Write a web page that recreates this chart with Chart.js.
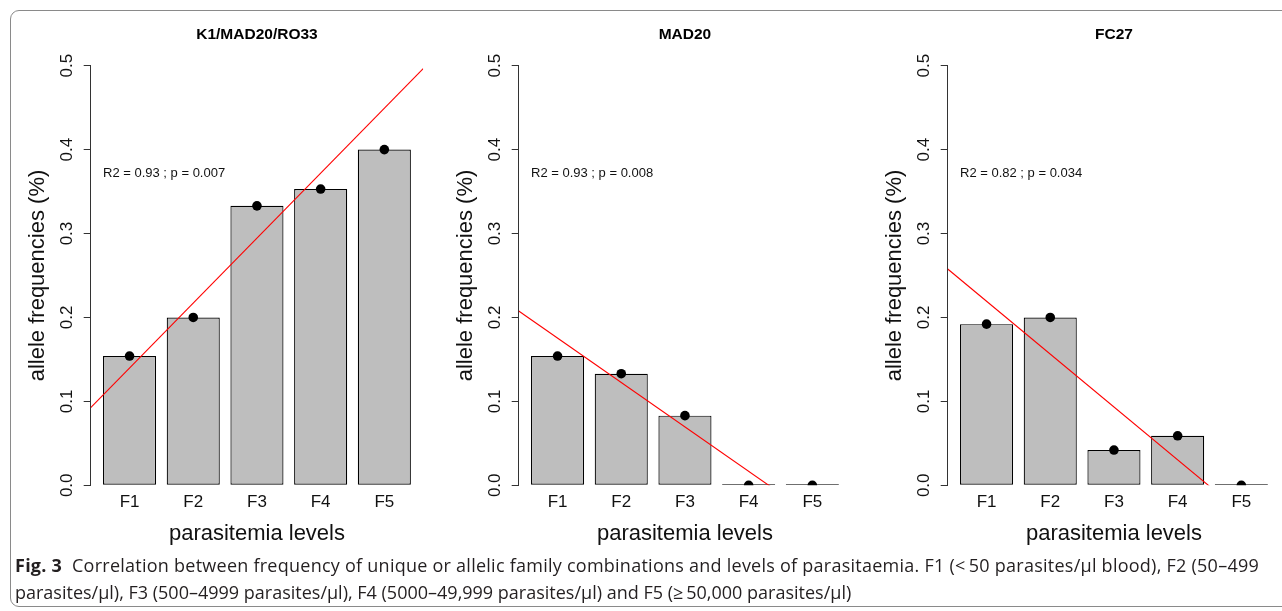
<!DOCTYPE html>
<html>
<head>
<meta charset="utf-8">
<script src="https://cdn.jsdelivr.net/npm/chart.js@4.4.0/dist/chart.umd.min.js"></script>
<style>
  html, body { margin: 0; padding: 0; background: #fff; overflow: hidden; }
  #fig { position: relative; width: 1282px; height: 611px; }
  #frame { position: absolute; left: 10px; top: 10px; width: 1300px; height: 597px;
           border: 1px solid #8a8a8a; border-radius: 9px; box-sizing: border-box; }
  canvas { position: absolute; top: 0; }
  #caption { position: absolute; left: 15px; top: 552px; font-family: "Open Sans", sans-serif;
             font-size: 18px; line-height: 27px; color: #231f20; white-space: nowrap; }
  #caption b { font-weight: 700; }
  #caption .l1 { letter-spacing: 0.25px; }
</style>
</head>
<body>
<div id="fig">
  <div id="frame"></div>
  <canvas id="k1" width="428" height="560" style="left:0px"></canvas>
  <canvas id="mad20" width="428" height="560" style="left:428px"></canvas>
  <canvas id="fc27" width="428" height="560" style="left:857px"></canvas>
  <div id="caption">
    <span class="l1"><b>Fig. 3</b>&nbsp; Correlation between frequency of unique or allelic family combinations and levels of parasitaemia. F1 (&lt;&thinsp;50 parasites/µl blood), F2 (50–499</span><br>
    <span>parasites/µl), F3 (500–4999 parasites/µl), F4 (5000–49,999 parasites/µl) and F5 (≥&thinsp;50,000 parasites/µl)</span>
  </div>
</div>
<script>
// parasitemia levels and allele frequencies
const levels = ['F1', 'F2', 'F3', 'F4', 'F5']
const k1Freq = [0.154, 0.200, 0.333, 0.353, 0.400]
const mad20Freq = [0.154, 0.133, 0.083, 0, 0]
const fc27Freq = [0.192, 0.200, 0.042, 0.059, 0]
const panelTitles = ['K1/MAD20/RO33', 'MAD20', 'FC27']
const statLabels = ['R2 = 0.93 ; p = 0.007', 'R2 = 0.93 ; p = 0.008', 'R2 = 0.82 ; p = 0.034']

// barplot style x coordinates: bar width 1, gap 0.2, 4% padding each side
const barCenters = levels.map((_, i) => 0.7 + 1.2 * i)
const xMin = -0.032
const xMax = 6.232

Chart.defaults.font.family = '"Liberation Sans", Arial, sans-serif'
Chart.defaults.color = '#111'

// least squares fit of frequency on level index 1..5
const fitLine = (values) => {
  const xs = values.map((_, i) => i + 1)
  const mx = xs.reduce((a, b) => a + b, 0) / xs.length
  const my = values.reduce((a, b) => a + b, 0) / values.length
  let sxy = 0, sxx = 0
  xs.forEach((x, i) => {
    sxy += (x - mx) * (values[i] - my)
    sxx += (x - mx) * (x - mx)
  })
  const slope = sxy / sxx
  return { slope, intercept: my - slope * mx }
}

const statText = {
  id: 'statText',
  afterDatasetsDraw(chart, args, opts) {
    const { ctx, scales } = chart
    ctx.save()
    ctx.font = '13px "Liberation Sans", Arial, sans-serif'
    ctx.fillStyle = '#111'
    ctx.textBaseline = 'middle'
    ctx.textAlign = 'left'
    ctx.fillText(opts.text, scales.x.getPixelForValue(0.2), scales.y.getPixelForValue(0.372))
    ctx.restore()
  }
}

const makePanel = (id, values, title, stat) => {
  const fit = fitLine(values)
  new Chart(document.getElementById(id), {
    type: 'bar',
    data: {
      datasets: [
        {
          type: 'bar',
          data: values.map((v, i) => ({ x: barCenters[i], y: v })),
          backgroundColor: '#bebebe',
          borderColor: '#000',
          borderWidth: 1.2,
          borderSkipped: false,
          barPercentage: 1 / 1.2,
          categoryPercentage: 1,
          minBarLength: 1.2,
          order: 3
        },
        {
          type: 'line',
          data: [xMin, xMax].map((x) => ({ x: x, y: fit.intercept + fit.slope * x })),
          borderColor: '#ff0000',
          borderWidth: 1.1,
          pointRadius: 0,
          clip: 0,
          order: 2
        },
        {
          type: 'line',
          data: values.map((v, i) => ({ x: barCenters[i], y: v })),
          showLine: false,
          pointRadius: 4.8,
          pointBackgroundColor: '#000',
          pointBorderWidth: 0,
          clip: 0,
          order: 1
        }
      ]
    },
    options: {
      responsive: false,
      animation: false,
      events: [],
      layout: { padding: { left: 0, right: 3.7, top: 0, bottom: 0 } },
      plugins: {
        legend: { display: false },
        tooltip: { enabled: false },
        title: {
          display: true,
          text: title,
          fullSize: false,
          color: '#000',
          font: { size: 15.5, weight: 'bold' },
          padding: { top: 25.3, bottom: 21.8 }
        },
        statText: { text: stat }
      },
      scales: {
        x: {
          type: 'linear',
          min: xMin,
          max: xMax,
          bounds: 'data',
          offset: false,
          grid: { display: false, drawTicks: false },
          border: { display: false },
          afterBuildTicks: (scale) => {
            scale.ticks = barCenters.map((v) => ({ value: v }))
          },
          afterFit: (scale) => { scale.height = 74.7 },
          ticks: {
            autoSkip: false,
            maxRotation: 0,
            padding: 7.3,
            color: '#111',
            font: { size: 17 },
            callback: (value, index) => levels[index]
          },
          title: {
            display: true,
            text: 'parasitemia levels',
            color: '#111',
            font: { size: 22 },
            padding: { top: 0, bottom: 12.8 }
          }
        },
        y: {
          min: 0,
          max: 0.5,
          grid: { drawOnChartArea: false, drawTicks: true, tickLength: 7, color: '#333' },
          border: { display: true, color: '#333', width: 1 },
          afterFit: (scale) => { scale.width = 90.7 },
          ticks: {
            stepSize: 0.1,
            autoSkip: false,
            minRotation: 90,
            maxRotation: 90,
            crossAlign: 'center',
            padding: 4.4,
            color: '#111',
            font: { size: 17 },
            callback: (value) => value.toFixed(1)
          },
          title: {
            display: true,
            text: 'allele frequencies (%)',
            color: '#111',
            font: { size: 22 },
            padding: { top: 24.8, bottom: 0 }
          }
        }
      }
    },
    plugins: [statText]
  })
}

makePanel('k1', k1Freq, panelTitles[0], statLabels[0])
makePanel('mad20', mad20Freq, panelTitles[1], statLabels[1])
makePanel('fc27', fc27Freq, panelTitles[2], statLabels[2])
</script>
</body>
</html>
